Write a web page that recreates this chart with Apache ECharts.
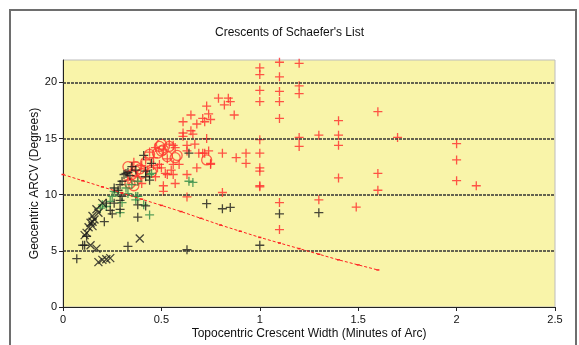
<!DOCTYPE html>
<html>
<head>
<meta charset="utf-8">
<script src="https://cdn.jsdelivr.net/npm/echarts@6/dist/echarts.min.js"></script>
<style>
  html, body { margin: 0; padding: 0; background: #fff; }
  #chart { width: 579px; height: 345px; }
</style>
</head>
<body>
<div id="chart"></div>
<script>
// Crescent observations: [width (arc-min), ARCV (deg)]
const redPlus = [
  [1.0,21.3],[1.0,20.7],[1.1,21.8],[1.2,21.7],[1.1,20.5],[1.2,19.7],[1.2,19.0],[1.0,19.3],[1.1,19.2],
  [1.0,18.3],[1.1,18.3],[1.1,16.8],[1.4,16.6],[1.6,17.4],[1.2,15.1],[1.3,15.3],[1.4,15.3],[1.4,14.4],
  [1.2,14.3],[1.0,14.9],[1.7,15.1],[1.6,11.9],[1.4,11.5],[1.6,10.4],[1.1,9.3],[1.3,9.55],[1.49,8.9],
  [1.1,6.9],[1.0,12.1],[1.0,12.4],[1.0,13.7],[1.0,10.8],[1.0,10.7],[2.0,14.55],[2.0,13.1],[2.0,11.25],
  [2.1,10.8],
  [0.79,18.6],[0.84,18.6],[0.85,18.3],[0.82,18.0],[0.87,17.1],[0.73,17.9],[0.74,17.2],[0.65,17.1],
  [0.71,16.8],[0.72,16.5],[0.75,16.7],[0.61,16.5],[0.68,16.3],[0.65,15.7],[0.61,15.5],[0.66,15.4],
  [0.61,15.2],[0.73,15.0],[0.67,14.5],[0.63,14.4],[0.54,14.5],[0.56,14.4],[0.47,14.2],[0.57,14.2],
  [0.51,14.0],[0.63,13.9],[0.69,13.7],[0.72,13.7],[0.74,13.9],[0.81,13.7],[0.93,13.7],[0.88,13.3],
  [0.93,12.8],[0.75,12.7],[0.59,12.7],[0.49,12.7],[0.46,13.3],[0.68,12.4],[0.55,12.2],[0.52,11.9],
  [0.63,11.8],[0.56,11.8],[0.51,10.8],[0.63,9.8],[0.81,10.2],[0.71,13.7],[0.75,12.8],
  [0.40,12.6],[0.43,12.2],[0.38,11.6],[0.46,12.6],[0.36,12.9],[0.42,13.1],[0.33,11.3],[0.47,11.6],
  [0.40,11.0],[0.50,12.4],[0.44,13.8],[0.53,13.2],[0.53,11.8],[0.57,11.0],[0.51,10.3],[0.56,12.7],
  [0.48,12.4]
];
const redCircle = [
  [0.44,13.6],[0.50,13.9],[0.53,13.4],[0.57,13.3],[0.49,14.3],[0.54,14.3],[0.73,13.1],[0.37,12.5],
  [0.35,11.8],[0.37,12.1],[0.40,11.9],[0.34,11.0],[0.37,11.3],[0.33,12.5],[0.48,13.7],[0.51,14.0],
  [0.58,13.5],[0.50,14.5],[0.42,12.9],[0.39,12.3],[0.45,12.0],[0.36,10.8]
];
const greenPlus = [
  [0.66,11.1],[0.44,11.8],[0.38,11.2],[0.45,11.9],[0.64,11.2],[0.37,9.85],[0.25,9.85],[0.22,8.95],
  [0.19,8.8],[0.29,8.4],[0.44,8.2],[0.37,9.55],[0.38,9.85],[0.41,9.1],[0.28,10.2],[0.26,10.3],
  [0.20,9.1],[0.32,10.6],[0.35,10.9],[0.30,9.3],[0.24,9.4],[0.33,10.1]
];
const blackPlus = [
  [0.07,4.3],[0.10,5.5],[0.11,5.5],[0.12,6.3],[0.33,5.4],[0.38,8.0],[0.38,9.1],[0.42,9.0],[0.21,7.6],
  [0.25,8.3],[0.24,8.6],[0.29,8.7],[0.22,9.25],[0.26,9.25],[0.29,9.5],[0.30,9.85],[0.63,5.1],[0.73,9.2],
  [0.81,8.75],[0.85,8.87],[1.1,8.3],[1.3,8.4],[1.0,5.5],[0.64,13.7],[0.41,13.5],[0.45,12.8],[0.42,12.1],
  [0.44,11.3],[0.42,11.6],[0.31,11.8],[0.32,11.9],[0.33,12.0],[0.34,11.7],[0.37,12.2],[0.35,12.5],
  [0.29,10.9],[0.26,10.6],[0.30,11.2],[0.28,10.4]
];
const blackCross = [
  [0.15,8.1],[0.16,7.8],[0.14,7.5],[0.15,7.6],[0.13,7.1],[0.11,6.4],[0.14,5.5],[0.17,5.2],[0.18,4.0],
  [0.20,4.2],[0.22,4.25],[0.24,4.35],[0.39,6.1],[0.20,9.25],[0.17,8.7],[0.15,7.2],[0.18,8.4],[0.12,6.6]
];
// Visibility limit line
const limitLine = [
  [0,11.8],[0.1,11.25],[0.2,10.7],[0.3,10.15],[0.4,9.6],[0.5,9.05],[0.6,8.5],[0.7,7.9],[0.8,7.3],
  [0.9,6.75],[1.0,6.2],[1.1,5.7],[1.2,5.2],[1.3,4.7],[1.4,4.2],[1.5,3.75],[1.6,3.3]
];
const xTicks = [0, 0.5, 1, 1.5, 2, 2.5];
const yGridValues = [5, 10, 15, 20];

const PLUS = 'path://M0,5L10,5M5,0L5,10';
const CROSS = 'path://M0,0L10,10M10,0L0,10';
const FONT = 'Liberation Sans';

function markStyle(color) {
  return { color: 'rgba(0,0,0,0)', borderColor: color, borderWidth: 1.3 };
}

const chart = echarts.init(document.getElementById('chart'), null, { renderer: 'canvas' });
chart.setOption({
  animation: false,
  backgroundColor: '#ffffff',
  graphic: [
    { type: 'rect', shape: { x: 10, y: 10, width: 566, height: 345 },
      style: { fill: 'none', stroke: '#6e6e6e', lineWidth: 2 }, silent: true, z: 0 }
  ],
  title: {
    text: "Crescents of Schaefer's List",
    left: 'center', top: 22,
    textStyle: { fontFamily: FONT, fontSize: 12, fontWeight: 'normal', color: '#111' }
  },
  grid: {
    left: 63, right: 24, top: 60, bottom: 38,
    outerBoundsMode: 'none', containLabel: false,
    show: true, backgroundColor: '#f9f4a9', borderColor: '#bdbdbd', borderWidth: 1
  },
  xAxis: {
    type: 'value', min: 0, max: 2.5, interval: 0.5,
    name: 'Topocentric Crescent Width (Minutes of Arc)',
    nameLocation: 'middle', nameGap: 21, nameMoveOverlap: false,
    nameTextStyle: { fontFamily: FONT, fontSize: 12, color: '#111' },
    axisLine: { show: true, lineStyle: { color: '#222', width: 1 } },
    axisTick: { show: true, length: 4, lineStyle: { color: '#222' } },
    axisLabel: { fontFamily: FONT, fontSize: 11, color: '#111', margin: 7,
      formatter: v => xTicks.includes(v) ? String(v) : '' },
    splitLine: { show: false }
  },
  yAxis: {
    type: 'value', min: 0, max: 22, interval: 5,
    name: 'Geocentric ARCV (Degrees)',
    nameLocation: 'middle', nameGap: 22, nameMoveOverlap: false,
    nameTextStyle: { fontFamily: FONT, fontSize: 12, color: '#111' },
    axisLine: { show: true, lineStyle: { color: '#222', width: 1 } },
    axisTick: { show: true, length: 4, lineStyle: { color: '#222' } },
    axisLabel: { fontFamily: FONT, fontSize: 11, color: '#111', margin: 6, showMaxLabel: false },
    splitLine: { show: false }
  },
  series: [
    {
      type: 'scatter', data: redPlus, symbol: PLUS, symbolSize: 9,
      itemStyle: markStyle('#ff2b2b'), z: 3,
      markLine: {
        silent: true, symbol: 'none', label: { show: false },
        lineStyle: { color: '#333', type: [3, 1], width: 1.5 },
        data: yGridValues.map(v => ({ yAxis: v }))
      }
    },
    { type: 'scatter', data: redCircle, symbol: 'circle', symbolSize: 10,
      itemStyle: markStyle('#ff3b30'), z: 4 },
    { type: 'scatter', data: greenPlus, symbol: PLUS, symbolSize: 9,
      itemStyle: markStyle('#2f8a46'), z: 5 },
    { type: 'scatter', data: blackPlus, symbol: PLUS, symbolSize: 9,
      itemStyle: markStyle('#1a1a1a'), z: 6 },
    { type: 'scatter', data: blackCross, symbol: CROSS, symbolSize: 8,
      itemStyle: markStyle('#1a1a1a'), z: 6 },
    { type: 'line', data: limitLine, symbol: 'rect', symbolSize: [3, 1.5],
      itemStyle: { color: '#ff2020' },
      lineStyle: { color: '#ff2020', width: 1, type: [3, 2] }, z: 7 }
  ]
});
</script>
</body>
</html>
